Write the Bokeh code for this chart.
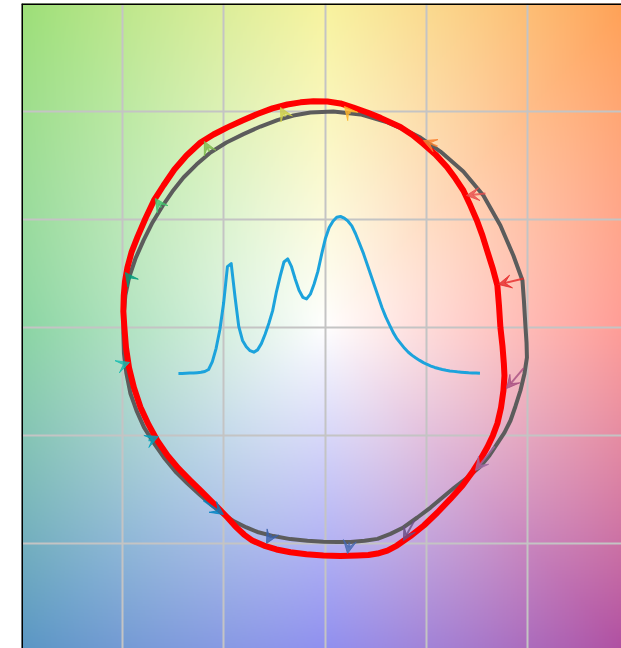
import numpy as np
from bokeh.plotting import figure
from bokeh.models import Range1d, Grid, FixedTicker, Span, Arrow, VeeHead
from bokeh.embed import file_html
from bokeh.resources import INLINE

# ---------------- data ----------------
# reference gamut outline (grey), normalised a'/b' coordinates
ref_x = [0.989, 0.981, 0.974, 0.929, 0.865, 0.781, 0.682, 0.569, 0.470, 0.391,
         0.307, 0.174, 0.040, -0.073, -0.157, -0.236, -0.320, -0.404, -0.488, -0.567,
         -0.636, -0.700, -0.755, -0.799, -0.853, -0.898, -0.937, -0.969, -0.987, -0.995,
         -0.997, -0.994, -0.982, -0.962, -0.932, -0.895, -0.848, -0.797, -0.740, -0.680,
         -0.621, -0.567, -0.508, -0.448, -0.389, -0.335, -0.256, -0.172, -0.088, -0.009,
         0.060, 0.124, 0.194, 0.258, 0.322, 0.386, 0.455, 0.520, 0.579, 0.638,
         0.702, 0.766, 0.811, 0.850, 0.885, 0.915, 0.939, 0.964, 0.984, 0.996, 0.994]
ref_y = [-0.001, 0.124, 0.216, 0.332, 0.471, 0.610, 0.721, 0.813, 0.878, 0.915,
         0.948, 0.985, 0.999, 0.994, 0.980, 0.959, 0.929, 0.894, 0.855, 0.809,
         0.753, 0.693, 0.628, 0.568, 0.485, 0.401, 0.318, 0.230, 0.147, 0.063,
         -0.029, -0.122, -0.214, -0.307, -0.386, -0.464, -0.534, -0.603, -0.668, -0.724,
         -0.775, -0.819, -0.863, -0.900, -0.927, -0.948, -0.967, -0.981, -0.989, -0.993,
         -0.995, -0.994, -0.989, -0.980, -0.957, -0.927, -0.881, -0.835, -0.788, -0.742,
         -0.696, -0.645, -0.594, -0.538, -0.488, -0.432, -0.367, -0.293, -0.214, -0.140, -0.071]

# test gamut outline (red)
test_x = [0.865, 0.858, 0.850, 0.826, 0.801, 0.776, 0.749, 0.717, 0.682, 0.643,
          0.601, 0.544, 0.485, 0.431, 0.371, 0.273, 0.208, 0.139, 0.075, 0.011,
          -0.058, -0.122, -0.187, -0.261, -0.335, -0.409, -0.483, -0.552, -0.616, -0.685,
          -0.745, -0.799, -0.846, -0.888, -0.927, -0.957, -0.977, -0.989, -0.995, -0.997,
          -0.992, -0.984, -0.969, -0.945, -0.913, -0.873, -0.829, -0.779, -0.725, -0.666,
          -0.616, -0.567, -0.527, -0.483, -0.443, -0.401, -0.360, -0.303, -0.241, -0.172,
          -0.093, -0.009, 0.075, 0.159, 0.213, 0.258, 0.307, 0.354, 0.421, 0.487,
          0.554, 0.618, 0.678, 0.732, 0.769, 0.801, 0.828, 0.850, 0.868, 0.880,
          0.885, 0.882, 0.875]
test_y = [-0.001, 0.100, 0.193, 0.276, 0.350, 0.425, 0.494, 0.563, 0.633, 0.688,
          0.742, 0.800, 0.848, 0.890, 0.927, 0.969, 0.994, 1.017, 1.036, 1.045,
          1.046, 1.041, 1.031, 1.013, 0.987, 0.957, 0.925, 0.892, 0.855, 0.795,
          0.730, 0.656, 0.587, 0.503, 0.418, 0.346, 0.276, 0.212, 0.147, 0.073,
          -0.001, -0.094, -0.187, -0.279, -0.369, -0.450, -0.525, -0.594, -0.654, -0.710,
          -0.756, -0.802, -0.839, -0.881, -0.923, -0.960, -0.988, -1.011, -1.029, -1.042,
          -1.051, -1.057, -1.059, -1.057, -1.055, -1.048, -1.034, -1.011, -0.967, -0.918,
          -0.858, -0.795, -0.733, -0.663, -0.608, -0.555, -0.501, -0.446, -0.372, -0.293,
          -0.224, -0.168, -0.085]

# 16 hue-bin vectors: reference point -> test point
bin_ref_x = [0.980, 0.791, 0.554, 0.124, -0.197, -0.572, -0.809, -0.962,
             -0.997, -0.873, -0.601, -0.266, 0.120, 0.440, 0.836, 0.979]
bin_ref_y = [0.225, 0.619, 0.837, 0.989, 0.975, 0.813, 0.554, 0.221,
             -0.173, -0.525, -0.802, -0.960, -0.997, -0.895, -0.552, -0.191]
bin_test_x = [0.855, 0.697, 0.485, 0.095, -0.221, -0.597, -0.839, -0.987,
              -0.967, -0.824, -0.503, -0.290, 0.110, 0.386, 0.742, 0.895]
bin_test_y = [0.198, 0.610, 0.864, 1.022, 1.017, 0.860, 0.596, 0.253,
              -0.163, -0.506, -0.867, -1.001, -1.048, -0.988, -0.663, -0.284]
bin_colors = ["#e62828", "#e74b4b", "#fb812e", "#ffb529", "#cbca46", "#7eb94c",
              "#41c06d", "#009c7c", "#16bcb0", "#00a4bf", "#0085c3", "#3b62aa",
              "#4568ae", "#6a4e85", "#9d69a1", "#a74f81"]

# relative spectral power distribution of the test source
wavelengths = list(range(380, 781, 5))
spd = [0.000, 0.000, 0.001, 0.002, 0.003, 0.005, 0.007, 0.012, 0.025, 0.075,
       0.160, 0.280, 0.450, 0.680, 0.700, 0.490, 0.300, 0.210, 0.170, 0.145,
       0.135, 0.150, 0.190, 0.250, 0.320, 0.400, 0.520, 0.620, 0.710, 0.730,
       0.680, 0.600, 0.530, 0.485, 0.475, 0.505, 0.570, 0.650, 0.760, 0.860,
       0.930, 0.970, 0.995, 1.000, 0.990, 0.970, 0.940, 0.890, 0.830, 0.770,
       0.700, 0.630, 0.560, 0.490, 0.420, 0.360, 0.310, 0.260, 0.220, 0.190,
       0.160, 0.135, 0.115, 0.098, 0.083, 0.069, 0.057, 0.047, 0.038, 0.031,
       0.025, 0.020, 0.016, 0.013, 0.010, 0.008, 0.006, 0.004, 0.003, 0.002,
       0.001]

grid_ticks = [-1.0, -0.5, 0.0, 0.5, 1.0]

# background hue wheel key colours (style)
bg_angles = [0, 45, 90, 135, 180, 225, 270, 315]
bg_colors = ["#ff746b", "#ffa055", "#f5ef79", "#9ddf78", "#5ec580", "#5a96c4", "#6464ea", "#b04ea0"]

# ---------------- figure ----------------
xr = Range1d(-1.5, 1.463)
yr = Range1d(-1.4875, 1.4986)
p = figure(width=621, height=648, x_range=xr, y_range=yr,
           x_axis_location=None, y_axis_location=None,
           toolbar_location=None, output_backend="svg",
           min_border_left=21, min_border_right=0, min_border_top=3, min_border_bottom=0)
p.outline_line_color = None
p.xgrid.visible = False
p.ygrid.visible = False

# background image
N = 480
g = np.linspace(-1.5, 1.5, N)
X, Y = np.meshgrid(g, g)
theta = np.degrees(np.arctan2(Y, X)) % 360
rad = np.hypot(X, Y)
sat = np.clip(rad / 2.12, 0, 1) ** 0.95
ang = np.array(bg_angles + [360], dtype=float)
img = np.empty((N, N), dtype=np.uint32)
view = img.view(dtype=np.uint8).reshape((N, N, 4))
for ch in range(3):
    vals = [int(c[1 + 2 * ch:3 + 2 * ch], 16) for c in bg_colors]
    vals = np.array(vals + vals[:1], dtype=float)
    base = np.interp(theta, ang, vals)
    view[:, :, ch] = np.clip(255 - sat * (255 - base), 0, 255).astype(np.uint8)
view[:, :, 3] = 255
p.image_rgba(image=[img], x=-1.5, y=-1.5, dw=3.0, dh=3.0, level="image")

# grid
p.add_layout(Grid(dimension=0, ticker=FixedTicker(ticks=grid_ticks),
                  grid_line_color="#c4c4c4", grid_line_width=2))
p.add_layout(Grid(dimension=1, ticker=FixedTicker(ticks=grid_ticks),
                  grid_line_color="#c4c4c4", grid_line_width=2))

# frame edges (left / top)
p.add_layout(Span(location=xr.start, dimension="height", line_color="black", line_width=3))
p.add_layout(Span(location=yr.end, dimension="width", line_color="black", line_width=3))

# spectrum inset, placed through extra ranges
box_x0, box_x1, box_y0, box_y1 = -0.725, 0.764, -0.214, 0.5125
wl0, wl1 = wavelengths[0], wavelengths[-1]
kx = (wl1 - wl0) / (box_x1 - box_x0)
ky = max(spd) / (box_y1 - box_y0)
p.extra_x_ranges = {"wl": Range1d(wl0 + (xr.start - box_x0) * kx, wl0 + (xr.end - box_x0) * kx)}
p.extra_y_ranges = {"pw": Range1d((yr.start - box_y0) * ky, (yr.end - box_y0) * ky)}
p.line(wavelengths, spd, x_range_name="wl", y_range_name="pw",
       line_color="#1ca3dc", line_width=3, line_join="round")

# gamut outlines
p.line(ref_x + ref_x[:1], ref_y + ref_y[:1], line_color="#5c5c5c", line_width=4, line_join="round")
p.line(test_x + test_x[:1], test_y + test_y[:1], line_color="#ff0000", line_width=6, line_join="round")

# hue-bin arrows
for i in range(len(bin_colors)):
    c = bin_colors[i]
    p.add_layout(Arrow(x_start=bin_ref_x[i], y_start=bin_ref_y[i],
                       x_end=bin_test_x[i], y_end=bin_test_y[i],
                       line_color=c, line_width=2, line_alpha=0.8,
                       end=VeeHead(size=13, fill_color=c, line_color=c,
                                   fill_alpha=0.8, line_alpha=0.8)))

open("out.html", "w").write(file_html(p, INLINE))
